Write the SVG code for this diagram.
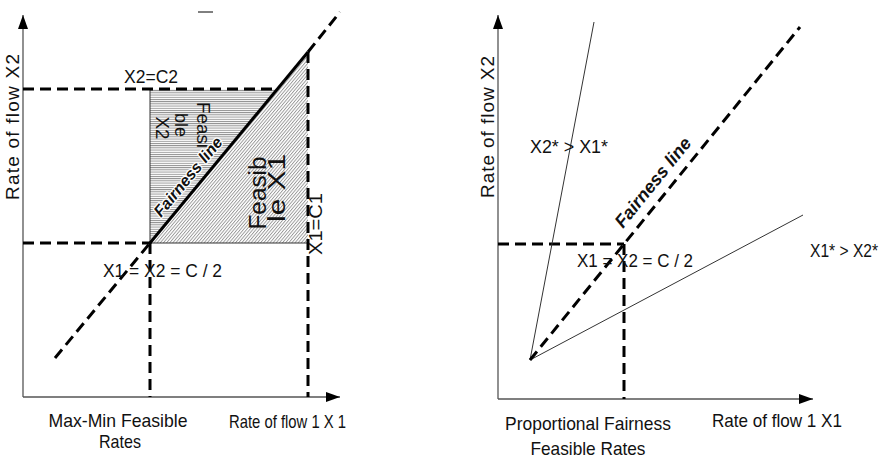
<svg xmlns="http://www.w3.org/2000/svg" width="892" height="461" viewBox="0 0 892 461">
<style>
text{font-family:"Liberation Sans",Arial,sans-serif;fill:#111;font-size:19px}
.axis{stroke:#555;stroke-width:1.3;fill:none}
.dash{stroke:#000;stroke-width:3;fill:none;stroke-dasharray:11 6}
.thin{stroke:#333;stroke-width:1;fill:none}
.fair{font-weight:bold;font-style:italic;font-size:16px;stroke:#fff;stroke-width:2.5;paint-order:stroke;stroke-linejoin:round}
.mid{text-anchor:middle}
</style>
<defs>
<marker id="arr" viewBox="0 0 14 10" refX="14" refY="5" markerWidth="14" markerHeight="10" markerUnits="userSpaceOnUse" orient="auto">
<path d="M0,0 L14,5 L0,10 Z" fill="#000"/>
</marker>
<pattern id="hz" width="4" height="2.2" patternUnits="userSpaceOnUse">
<rect width="4" height="2.2" fill="#fff"/>
<line x1="0" y1="0.5" x2="4" y2="0.5" stroke="#777" stroke-width="0.8"/>
</pattern>
<pattern id="dg" width="2.4" height="2.4" patternUnits="userSpaceOnUse" patternTransform="rotate(-50)">
<rect width="2.4" height="2.4" fill="#fff"/>
<line x1="0" y1="0.5" x2="2.4" y2="0.5" stroke="#888" stroke-width="0.8"/>
</pattern>
</defs>

<g id="left-regions">
<polygon points="150,89 277,89 150,243" fill="url(#hz)"/>
<polygon points="150,243 308,52 308,243" fill="url(#dg)"/>
<line class="thin" x1="150" y1="89" x2="150" y2="243"/>
<line class="thin" x1="150" y1="243" x2="308" y2="243"/>
</g>

<g id="connectors">
<line class="axis" x1="23" y1="397" x2="23" y2="15" marker-end="url(#arr)"/>
<line class="axis" x1="23" y1="397" x2="340" y2="397" marker-end="url(#arr)"/>
<line class="dash" x1="23" y1="89" x2="277" y2="89"/>
<line class="dash" x1="23" y1="243" x2="150" y2="243"/>
<line class="dash" x1="150" y1="243" x2="150" y2="397"/>
<line class="dash" x1="308" y1="52" x2="308" y2="397"/>
<line class="dash" x1="55" y1="358" x2="150" y2="243"/>
<line stroke="#000" stroke-width="3" x1="150" y1="243" x2="308" y2="52"/>
<line class="dash" x1="308" y1="52" x2="340" y2="12"/>
<line stroke="#000" stroke-width="1" x1="198" y1="12" x2="213" y2="12"/>

<line class="axis" x1="498" y1="399" x2="498" y2="15" marker-end="url(#arr)"/>
<line class="axis" x1="498" y1="399" x2="813" y2="399" marker-end="url(#arr)"/>
<line class="dash" x1="498" y1="244" x2="624" y2="244"/>
<line class="dash" x1="624" y1="244" x2="624" y2="399"/>
<line class="thin" x1="530" y1="360" x2="594" y2="22"/>
<line class="thin" x1="530" y1="360" x2="803" y2="215"/>
<line class="dash" x1="530" y1="360" x2="800" y2="27"/>
</g>

<g id="left-labels">
<text class="mid" transform="translate(19,127) rotate(-90)" textLength="146" lengthAdjust="spacing">Rate of flow X2</text>
<text x="124" y="83" textLength="54" lengthAdjust="spacingAndGlyphs">X2=C2</text>
<text class="mid" transform="translate(197,125) rotate(90)" textLength="46" lengthAdjust="spacingAndGlyphs">Feasi</text>
<text class="mid" transform="translate(175,125) rotate(90)" textLength="24" lengthAdjust="spacingAndGlyphs">ble</text>
<text class="mid" transform="translate(156,128) rotate(90)" textLength="23" lengthAdjust="spacingAndGlyphs">X2</text>
<text class="fair" transform="translate(161,218) rotate(-50.4)">Fairness line</text>
<text class="mid" style="font-size:23px" transform="translate(266,193) rotate(-90)" textLength="73" lengthAdjust="spacingAndGlyphs">Feasib</text>
<text class="mid" style="font-size:23px" transform="translate(285,188) rotate(-90)" textLength="68" lengthAdjust="spacingAndGlyphs">le X1</text>
<text transform="translate(322,255) rotate(-90)" textLength="62" lengthAdjust="spacingAndGlyphs">X1=C1</text>
<text x="103" y="277" textLength="119" lengthAdjust="spacingAndGlyphs">X1 = X2 = C / 2</text>
<text class="mid" x="118" y="427" textLength="139" lengthAdjust="spacingAndGlyphs">Max-Min Feasible</text>
<text class="mid" x="120" y="448" textLength="42" lengthAdjust="spacingAndGlyphs">Rates</text>
<text x="229" y="428" textLength="117" lengthAdjust="spacingAndGlyphs">Rate of flow 1 X 1</text>
</g>

<g id="right-labels">
<text class="mid" transform="translate(494,127) rotate(-90)" textLength="142" lengthAdjust="spacing">Rate of flow X2</text>
<text x="530" y="153" textLength="78" lengthAdjust="spacingAndGlyphs">X2* &gt; X1*</text>
<text class="fair" style="font-size:18px" transform="translate(623,229) rotate(-51)" textLength="110" lengthAdjust="spacingAndGlyphs">Fairness line</text>
<text x="577" y="267" textLength="116" lengthAdjust="spacingAndGlyphs">X1 = X2 = C / 2</text>
<text x="810" y="257" textLength="68" lengthAdjust="spacingAndGlyphs">X1* &gt; X2*</text>
<text x="712" y="427" textLength="130" lengthAdjust="spacingAndGlyphs">Rate of flow 1 X1</text>
<text class="mid" x="588" y="430" textLength="166" lengthAdjust="spacingAndGlyphs">Proportional Fairness</text>
<text class="mid" x="588" y="455" textLength="115" lengthAdjust="spacingAndGlyphs">Feasible Rates</text>
</g>
</svg>
